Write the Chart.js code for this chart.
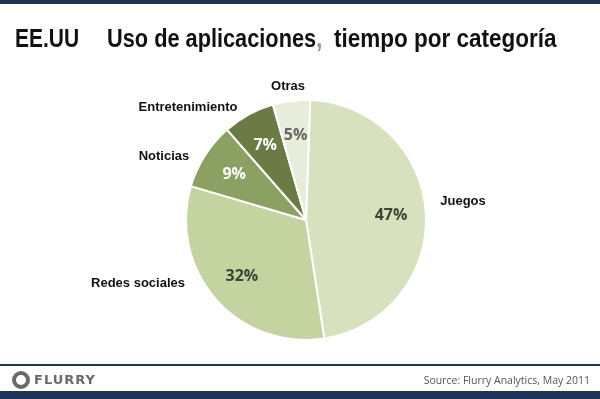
<!DOCTYPE html>
<html>
<head>
<meta charset="utf-8">
<script src="https://cdn.jsdelivr.net/npm/chart.js@4/dist/chart.umd.min.js"></script>
<style>
  html, body { margin: 0; padding: 0; background: #fff; }
  #pagina { position: relative; width: 600px; height: 399px; overflow: hidden; background: #fff; }
  #pizza { position: absolute; left: 0; top: 0; }
  .faixa { position: absolute; left: 0; width: 600px; background: #1c3556; }
  .titulo { position: absolute; top: 24px; font-family: "Liberation Sans", Arial, sans-serif;
    font-weight: bold; font-size: 25px; color: #111; white-space: pre; transform-origin: left top; }
  .virgula { color: #8a9a70; }
  #logo { position: absolute; left: 12px; top: 371px; font-family: "DejaVu Sans", sans-serif; font-weight: bold; font-size: 13px;
    color: #6a6a6a; letter-spacing: 1px; }
  #logo .circ { display: inline-block; width: 10px; height: 10px; border: 4px solid #6a6a6a; border-radius: 50%;
    vertical-align: -5px; margin-right: 4px; box-sizing: content-box; }
  #fonte { position: absolute; right: 10px; top: 373px; font-family: "Open Sans", "Liberation Sans", sans-serif; font-size: 10.5px; color: #555; }
</style>
</head>
<body>
<div id="pagina">
  <canvas id="pizza" width="600" height="399"></canvas>
  <div class="faixa" style="top:0;height:4px;"></div>
  <div class="faixa" style="top:364px;height:2px;"></div>
  <div class="faixa" style="top:391px;height:8px;"></div>
  <div class="titulo" style="left:15px;transform:scaleX(0.84);">EE.UU</div>
  <div class="titulo" style="left:107px;transform:scaleX(0.87);">Uso de aplicaciones<span class="virgula">,</span></div>
  <div class="titulo" style="left:334px;transform:scaleX(0.9);">tiempo por categoría</div>
  <div id="logo"><span class="circ"></span>FLURRY</div>
  <div id="fonte">Source: Flurry Analytics, May 2011</div>
</div>
<script>
// Dados
const categorias = ['Juegos', 'Redes sociales', 'Noticias', 'Entretenimiento', 'Otras'];
const porcentagens = [47, 32, 9, 7, 5];

const cores = ['#d7e1bd', '#c3d4a0', '#8aa161', '#6a7c44', '#e8eddb'];
const coresTexto = ['#3e4632', '#3e4632', '#ffffff', '#ffffff', '#666666'];
// deslocamento dos nomes em relação ao centro da pizza
const posNomes = [[157, -19], [-168, 63], [-142, -64], [-118, -113], [-18, -134]];

// Plugin pra escrever os rótulos
const rotulos = {
    id: 'rotulos',
    afterDatasetsDraw(chart) {
        const ctx = chart.ctx;
        const arcos = chart.getDatasetMeta(0).data;
        ctx.save();
        ctx.textAlign = 'center';
        ctx.textBaseline = 'middle';
        arcos.forEach((arco, i) => {
            const meio = (arco.startAngle + arco.endAngle) / 2;
            const r = arco.outerRadius * 0.71;
            ctx.font = 'bold 16px "Open Sans", "Liberation Sans", sans-serif';
            ctx.fillStyle = coresTexto[i];
            ctx.fillText(porcentagens[i] + '%', arco.x + Math.cos(meio) * r, arco.y + Math.sin(meio) * r);

            ctx.font = 'bold 13px "Liberation Sans", Arial, sans-serif';
            ctx.fillStyle = '#111';
            ctx.fillText(categorias[i], arco.x + posNomes[i][0], arco.y + posNomes[i][1]);
        });
        ctx.restore();
    }
};

function montaPizza() {
    const data = {
        labels: categorias,
        datasets: [{
            data: porcentagens,
            backgroundColor: cores,
            borderColor: '#ffffff',
            borderWidth: 2
        }]
    };

    const config = {
        type: 'pie',
        data: data,
        options: {
            responsive: false,
            animation: false,
            rotation: 2,
            layout: { padding: { left: 185, right: 173, top: 99, bottom: 58 } },
            plugins: {
                legend: { display: false },
                tooltip: { enabled: false }
            }
        },
        plugins: [rotulos]
    };

    new Chart(document.getElementById('pizza'), config);
}

montaPizza();
</script>
</body>
</html>
